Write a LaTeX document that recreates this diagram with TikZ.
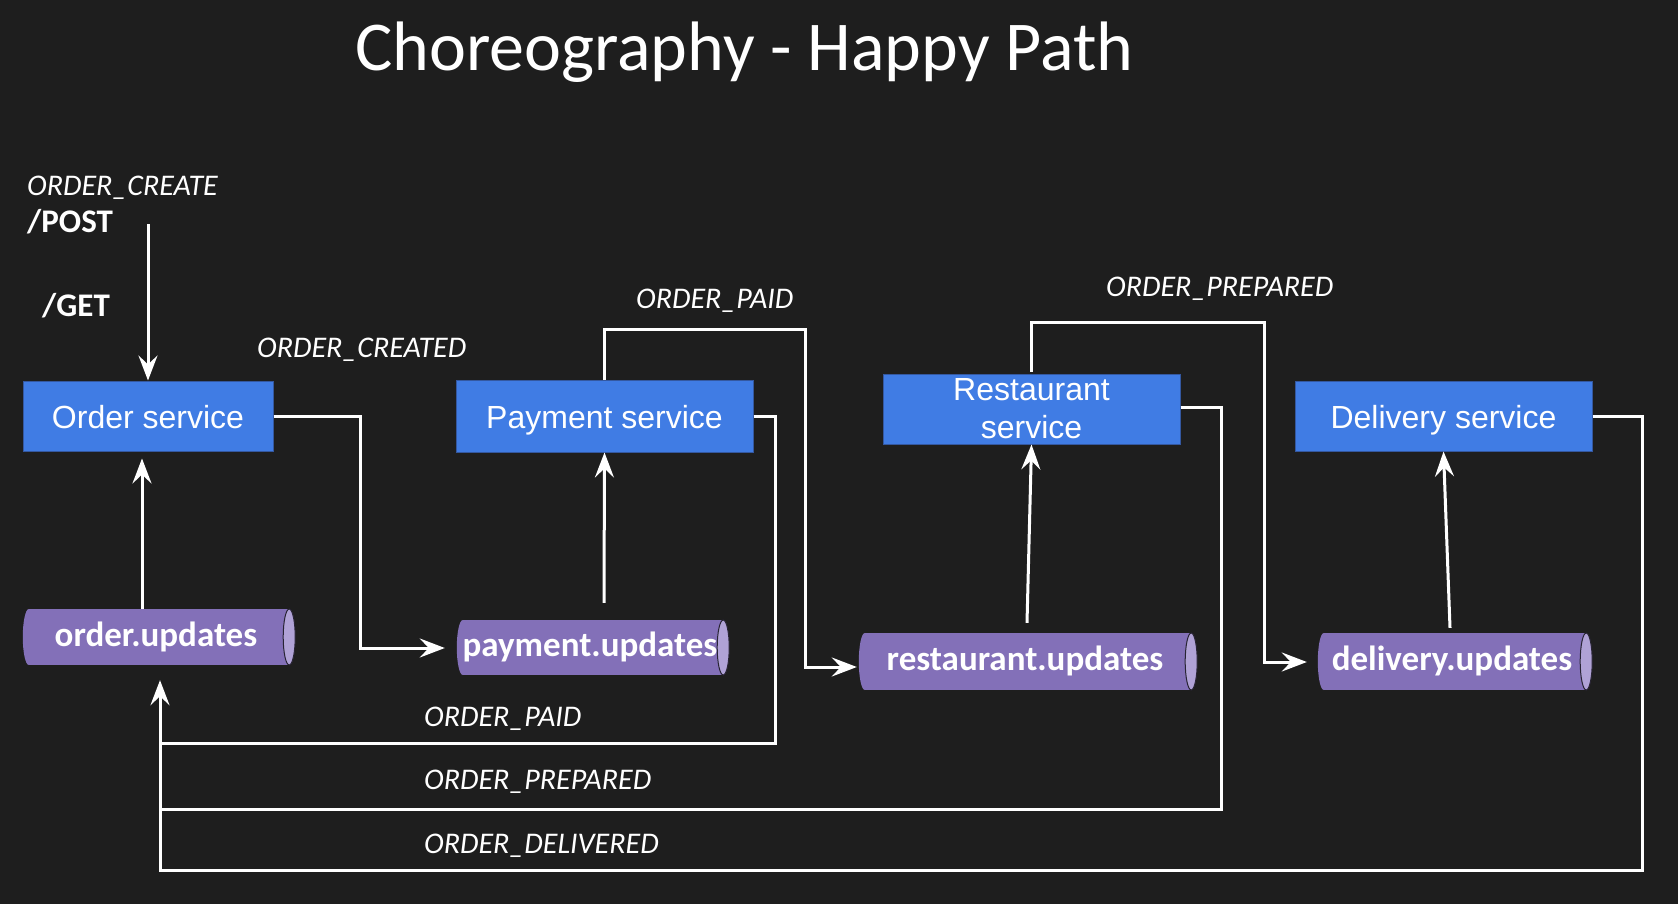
\documentclass[tikz,border=0pt]{standalone}
\usepackage{fontspec}
\setmainfont{Carlito}
\newfontfamily\boxfont{Liberation Sans}
\usetikzlibrary{arrows.meta,calc,backgrounds}

\definecolor{canvas}{RGB}{30,30,30}
\definecolor{svcfill}{RGB}{64,124,228}
\definecolor{svcline}{RGB}{52,88,160}
\definecolor{topicbody}{RGB}{131,112,184}
\definecolor{topiccap}{RGB}{176,162,214}
\definecolor{topicline}{RGB}{40,36,52}

\tikzset{
  service/.style={rectangle, fill=svcfill, draw=svcline, line width=1pt,
    inner sep=0pt, text=white, align=center,
    font=\boxfont\fontsize{32}{38}\selectfont},
  oneline/.style={text height=24pt, text depth=0pt},
  topic/.style={rectangle, inner sep=0pt, text=white,
    text height=24pt, text depth=6pt,
    font=\bfseries\fontsize{35}{40}\selectfont},
  evlabel/.style={anchor=base west, inner sep=0pt, text=white,
    font=\itshape\fontsize{30}{34}\selectfont},
  verb/.style={anchor=base west, inner sep=0pt, text=white,
    font=\bfseries\fontsize{33}{36}\selectfont},
  conn/.style={draw=white, line width=3pt},
  arr/.style={conn, -{Stealth[length=25pt,width=19pt,inset=9pt]}},
}

% cylinder behind a topic node: rounded left end, body, light end cap on the right
\newcommand{\topiccyl}[2]{%
  \fill[topicbody] ($(#1.north west)+(6,0)$) rectangle (#1.south east);
  \fill[topicbody] ($(#1.west)+(6,0)$) ellipse (6 and #2);
  \filldraw[fill=topiccap, draw=topicline, line width=1pt] (#1.east) ellipse (6 and #2);
}

\begin{document}
\begin{tikzpicture}[x=1pt,y=-1pt]
\useasboundingbox (0,0) rectangle (1678,904);

% title
\node[anchor=base west, inner sep=0pt, text=white,
      font=\fontsize{70}{80}\selectfont] (title) at (355,71) {Choreography - Happy Path};

% services
\node[service, oneline, minimum width=250, minimum height=70] (ordsvc)  at (148,416)    {Order service};
\node[service, oneline, minimum width=297, minimum height=72] (paysvc)  at (604.5,416)  {Payment service};
\node[service, minimum width=297, minimum height=70]          (restsvc) at (1031.5,409) {Restaurant\\service};
\node[service, oneline, minimum width=297, minimum height=70] (delsvc)  at (1443.5,416) {Delivery service};

% topics
\node[topic, minimum width=266, minimum height=56] (oupd) at (156,637)    {order.updates};
\node[topic, minimum width=266, minimum height=55] (pupd) at (590,647.5)  {payment.updates};
\node[topic, minimum width=332, minimum height=57] (rupd) at (1025,661.5) {restaurant.updates};
\node[topic, minimum width=268, minimum height=57] (dupd) at (1452,661.5) {delivery.updates};

\begin{scope}[on background layer]
  \fill[canvas] (0,0) rectangle (1678,904);
  \topiccyl{oupd}{28}
  \topiccyl{pupd}{27.5}
  \topiccyl{rupd}{28.5}
  \topiccyl{dupd}{28.5}
\end{scope}

% labels
\node[evlabel] (lcreate)   at (27,196)  {ORDER\_CREATE};
\node[verb]    (lpost)     at (27,233)  {/POST};
\node[verb]    (lget)      at (42,316)  {/GET};
\node[evlabel] (lcreated)  at (257,357) {ORDER\_CREATED};
\node[evlabel] (lpaidtop)  at (636,308) {ORDER\_PAID};
\node[evlabel] (lpreptop)  at (1106,296) {ORDER\_PREPARED};
\node[evlabel] (lpaid)     at (424,726) {ORDER\_PAID};
\node[evlabel] (lprep)     at (424,789) {ORDER\_PREPARED};
\node[evlabel] (ldeliv)    at (424,853) {ORDER\_DELIVERED};

% free ends and junctions of the return bus
\coordinate (postin) at (148,224);
\coordinate (jpaid)  at (160,743);
\coordinate (jprep)  at (160,809);
\coordinate (jdel)   at (160,870);

% request into the order service
\draw[arr] (postin) -- (ordsvc.north);

% services publish
\draw[arr] (ordsvc.east) -- ++(87,0) |- ($(pupd.west)+(-12,0.5)$);
\draw[arr] (paysvc.north) -- ++(0,-50) -- ++(200.5,0) |- ($(rupd.west)+(-2,5.5)$);
\draw[arr] ($(restsvc.north)+(0,-2)$) -- ++(0,-49) -- ++(232.5,0) |- ($(dupd.west)+(-11,0.5)$);

% services consume
\draw[arr] ($(oupd.north)+(-14,0)$) -- ($(ordsvc.south)+(-6,7)$);
\draw[arr] ($(pupd.north)+(14,-17)$) -- (paysvc.south);
\draw[arr] ($(rupd.north)+(2,-10)$) -- (restsvc.south);
\draw[arr] ($(dupd.north)+(-2,-5)$) -- (delsvc.south);

% status events back to order.updates
\draw[arr] (paysvc.east) -- ++(22,0) |- (jpaid) -- ($(oupd.south)+(4,15)$);
\draw[conn] ($(restsvc.east)+(0,-2)$) -- ++(41,0) |- (jprep);
\draw[conn] (delsvc.east) -- ++(50,0) |- (jdel) -- (jpaid);
\end{tikzpicture}
\end{document}
